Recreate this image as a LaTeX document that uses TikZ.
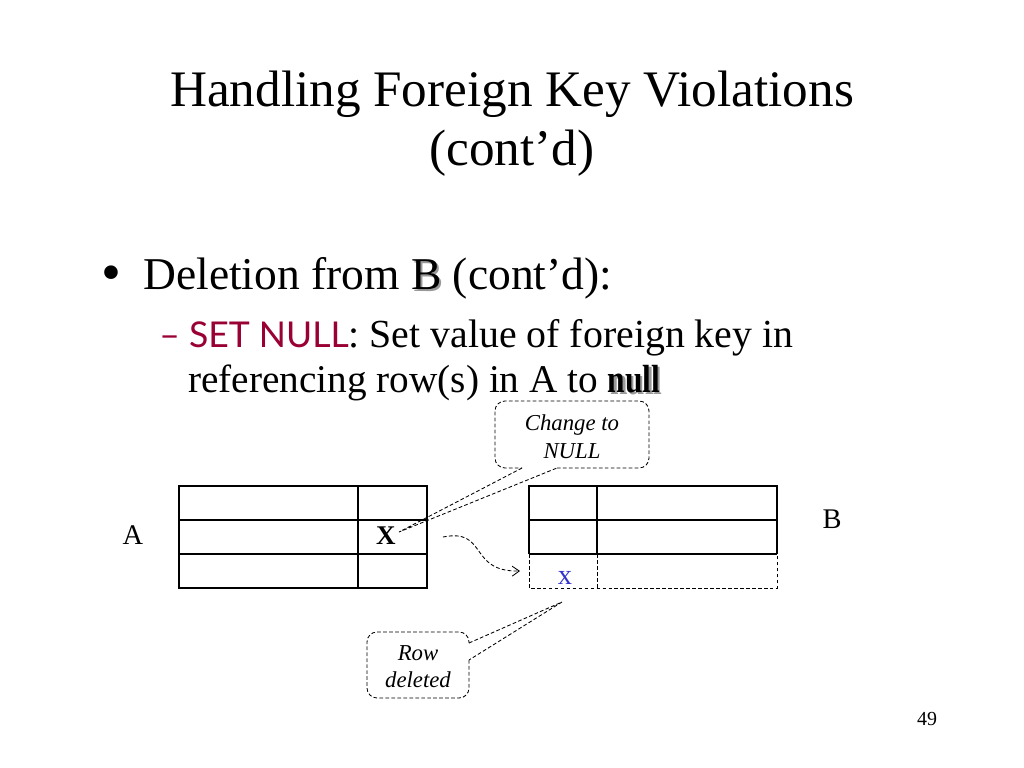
\documentclass[tikz,border=0pt]{standalone}
\usepackage{fontspec}
\setmainfont{Liberation Serif}
\newfontfamily\gillfont{Lato}
\usepackage{xcolor}
\usetikzlibrary{
  arrows.meta,
  calc,
  positioning
}
\definecolor{setred}{RGB}{153,0,51}
\definecolor{xblue}{RGB}{51,51,204}
\newcommand{\shadowtext}[1]{\makebox[0pt][l]{\hspace{1.6pt}\raisebox{-1.6pt}{\textcolor{black!40}{#1}}}#1}

\begin{document}
\begin{tikzpicture}[x=0.703125pt,y=-0.703125pt,
    txt/.style={inner sep=0,anchor=base west},
    cell/.style={line width=0.8},
    dash line/.style={dash pattern=on 2.6pt off 1.6pt,line width=0.6},
    tag/.style={inner sep=0,anchor=base,font=\fontsize{20}{24}\selectfont},
    note/.style={inner sep=0,anchor=base,font=\itshape\fontsize{16}{19}\selectfont}]
      \path[use as bounding box] (0,0) rectangle (1024,768);

      % title
      \path (512,107) node[inner sep=0,anchor=base,font=\fontsize{36}{43}\selectfont] (title1) {Handling Foreign Key Violations};
      \path (512,166) node[inner sep=0,anchor=base,font=\fontsize{36}{43}\selectfont] (title2) {(cont’d)};

      % bullets
      \path (101,291) node[txt,font=\fontsize{40}{44}\selectfont] (dot) {\textbullet};
      \path (143,289) node[txt,font=\fontsize{32}{38}\selectfont] (del) {Deletion from \shadowtext{B} (cont’d):};
      \path (159,348) node[txt,font=\fontsize{28}{32}\selectfont] (setnull)
        {{\gillfont\fontsize{25}{30}\selectfont\color{setred}– SET NULL}: Set value of foreign key in};
      \path (188,392) node[txt,font=\fontsize{27.6}{32}\selectfont] (refrow)
        {referencing row(s) in A to \shadowtext{\scalebox{0.8}[1]{\textbf{null}}}};

      % table A
      \draw[cell] (179,486) rectangle (427,588);
      \draw[cell] (179,520) -- (427,520) (179,554) -- (427,554) (358,486) -- (358,588);
      \path (133,544) node[tag] (la) {A};
      \path (386,544) node[tag,font=\bfseries\fontsize{19}{23}\selectfont] (ax) {X};

      % table B
      \draw[cell] (529,554) -- (529,486) -- (777,486) -- (777,554);
      \draw[cell] (529,520) -- (777,520) (529,554) -- (777,554) (597,486) -- (597,554);
      \draw[cell,dash line] (529,554) -- (529,588) -- (777,588) -- (777,554) (597,554) -- (597,588);
      \path (832,528) node[tag] (lb) {B};
      \path (565,584) node[tag,text=xblue] (bx) {x};

      % moved value
      \coordinate (arrs) at (443,537);
      \coordinate (arre) at (520,571);
      \draw[dash line,-{Straight Barb[length=5pt,width=7pt]}] (arrs) .. controls (488,528) and (468,572) .. (arre);

      % callout: change to null
      \coordinate (chgtip) at (399,532);
      \coordinate (chgl) at (522,468);
      \coordinate (chgr) at (557,468);
      \draw[dash line,rounded corners=7pt] (chgr) -- (649,468) -- (649,401) -- (495,401) -- (495,468) -- (chgl);
      \draw[dash line] (chgl) -- (chgtip) -- (chgr);
      \path (572,430) node[note] (chg1) {Change to};
      \path (572,458) node[note] (chg2) {NULL};

      % callout: row deleted
      \coordinate (rowtip) at (562,602);
      \coordinate (rowt) at (469,643);
      \coordinate (rowb) at (469,660);
      \draw[dash line,rounded corners=7pt] (rowb) -- (469,698) -- (367,698) -- (367,632) -- (469,632) -- (rowt);
      \draw[dash line] (rowt) -- (rowtip) -- (rowb);
      \path (418,660) node[note] (row1) {Row};
      \path (418,687) node[note] (row2) {deleted};

      \path (927,725) node[inner sep=0,anchor=base,font=\fontsize{14}{17}\selectfont] (pageno) {49};
    \end{tikzpicture}
\end{document}
